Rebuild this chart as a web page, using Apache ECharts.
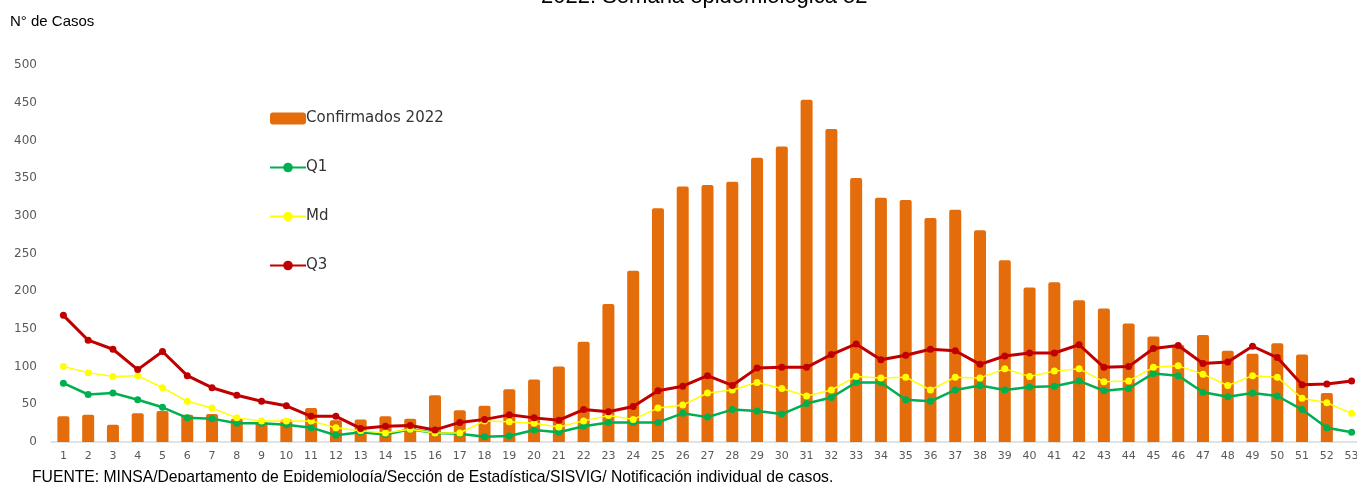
<!DOCTYPE html>
<html>
<head>
<meta charset="utf-8">
<script src="https://cdn.jsdelivr.net/npm/echarts@6/dist/echarts.min.js"></script>
<style>
  html, body { margin: 0; padding: 0; background: #fff; overflow: hidden; }
  #chart { width: 1364px; height: 482px; }
</style>
</head>
<body>
<div id="chart"></div>
<script>
// semanas epidemiologicas 1..53
const weeks = Array.from({ length: 53 }, (_, i) => String(i + 1));

const confirmados = [34, 36, 23, 38, 41, 36, 37, 31, 26, 30, 45, 29, 30, 34, 31, 62, 42, 48, 70, 83,
  100, 133, 183, 227, 310, 339, 341, 345, 377, 392, 454, 415, 350, 324, 321, 297, 308, 281, 241, 205,
  212, 188, 177, 157, 140, 129, 142, 121, 117, 131, 116, 65, null];

const q1 = [78, 63, 65, 56, 46, 32, 31, 25, 25, 23, 19, 9, 13, 10, 17, 12, 11, 7, 8, 16,
  13, 21, 26, 26, 26, 38, 33, 43, 41, 37, 51, 59, 79, 79, 56, 54, 69, 75, 69, 73,
  74, 81, 68, 71, 91, 88, 66, 60, 65, 61, 43, 19, 13];

const md = [100, 92, 87, 88, 72, 54, 45, 32, 28, 28, 28, 19, 15, 12, 17, 12, 12, 28, 27, 25,
  20, 28, 35, 30, 45, 49, 65, 69, 79, 71, 61, 69, 87, 85, 86, 69, 86, 85, 97, 87,
  94, 97, 80, 81, 99, 101, 90, 75, 88, 86, 58, 52, 38];

const q3 = [168, 135, 123, 96, 120, 88, 72, 62, 54, 48, 34, 34, 18, 21, 22, 16, 26, 30, 36, 32,
  29, 43, 40, 47, 68, 74, 88, 75, 98, 99, 99, 116, 130, 109, 115, 123, 121, 103, 114, 118,
  118, 129, 99, 100, 124, 128, 104, 106, 127, 112, 76, 77, 81];

const chart = echarts.init(document.getElementById("chart"));

const lineSerie = (name, data, color, width) => ({
  name: name,
  type: "line",
  data: data,
  symbol: "circle",
  symbolSize: 7,
  itemStyle: { color: color },
  lineStyle: { color: color, width: width },
  z: 3,
});

chart.setOption({
  animation: false,
  textStyle: { fontFamily: "DejaVu Sans" },
  title: [
    {
      text: "2022: Semana epidemiológica 52",
      left: 536,
      top: -19,
      textStyle: { fontFamily: "Liberation Sans", fontSize: 22, fontWeight: "normal", color: "#000" },
    },
    {
      text: "N° de Casos",
      left: 5,
      top: 9,
      textStyle: { fontFamily: "Liberation Sans", fontSize: 15, fontWeight: "normal", color: "#000" },
    },
    {
      text: "FUENTE: MINSA/Departamento de Epidemiología/Sección de Estadística/SISVIG/ Notificación individual de casos.",
      left: 27,
      top: 465,
      textStyle: { fontFamily: "Liberation Sans", fontSize: 15.7, fontWeight: "normal", color: "#000" },
    },
  ],
  legend: {
    orient: "vertical",
    left: 264,
    top: 106,
    itemGap: 34,
    itemWidth: 36,
    itemHeight: 12,
    textStyle: { fontSize: 15, color: "#333", padding: [0, 0, 0, -5] },
    data: ["Confirmados 2022", "Q1", "Md", "Q3"],
  },
  grid: { left: 51, top: 65, right: 0, height: 377 },
  xAxis: {
    type: "category",
    data: weeks,
    axisLine: { lineStyle: { color: "#D9D9D9", width: 1.5 } },
    axisTick: { show: false },
    axisLabel: { color: "#595959", fontSize: 11, margin: 9, interval: 0 },
  },
  yAxis: {
    type: "value",
    min: 0,
    max: 500,
    interval: 50,
    splitLine: { show: false },
    axisLabel: { color: "#595959", fontSize: 12, margin: 14 },
  },
  series: [
    {
      name: "Confirmados 2022",
      type: "bar",
      data: confirmados,
      barWidth: 12,
      itemStyle: { color: "#E46C0A", borderRadius: [2, 2, 0, 0] },
      z: 2,
    },
    lineSerie("Q1", q1, "#00B050", 2.5),
    lineSerie("Md", md, "#FFFF00", 1.5),
    lineSerie("Q3", q3, "#C00000", 3),
  ],
});
</script>
</body>
</html>
